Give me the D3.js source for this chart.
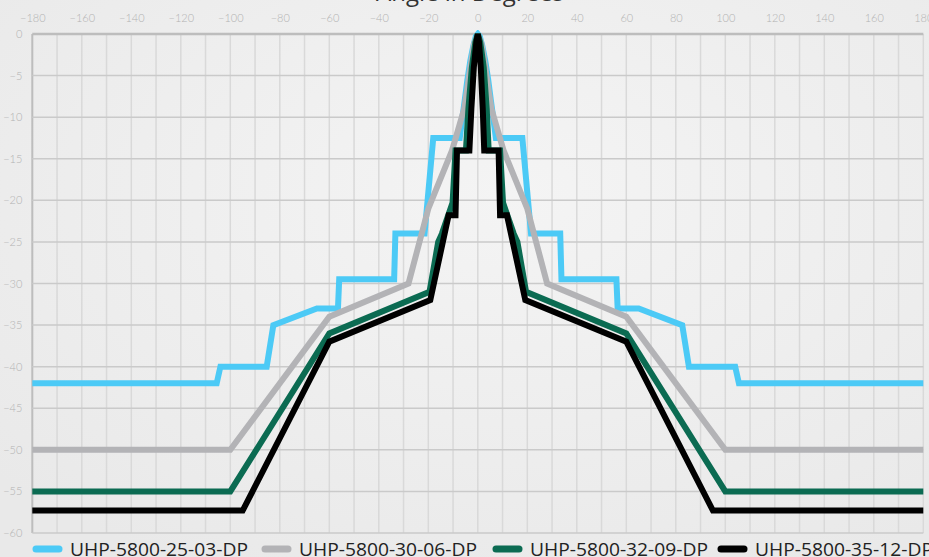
<!DOCTYPE html>
<html>
<head>
<meta charset="utf-8">
<script src="https://cdn.jsdelivr.net/npm/d3@7"></script>
<style>
  html, body { margin: 0; padding: 0; }
  body { width: 929px; height: 557px; overflow: hidden; background: #efefef; }
  svg { display: block; }
</style>
</head>
<body>
<svg id="chart" width="929" height="557"></svg>
<script>
// ---- Data (angle in degrees, level in dB) ----
const seriesNames = ["UHP-5800-25-03-DP", "UHP-5800-30-06-DP", "UHP-5800-32-09-DP", "UHP-5800-35-12-DP"];
const seriesColors = ["#4ccaf6", "#b3b3b6", "#0b6b52", "#000000"];

const angles25 = [-180,-105.5,-104,-85.3,-82.6,-65,-56.5,-56,-33.8,-33.3,-21.5,-18,-7.3,-6.2,-5.3,-4.2,-3,-1.8,-0.8,0,0.8,1.8,3,4.2,5.3,6.2,7.3,18,21.5,33.3,33.8,56,56.5,65,82.6,85.3,104,105.5,180];
const db25 = [-42,-42,-40,-40,-35,-33,-33,-29.5,-29.5,-24,-24,-12.5,-12.5,-10,-8,-5.5,-3.2,-1.4,-0.3,0,-0.3,-1.4,-3.2,-5.5,-8,-10,-12.5,-12.5,-24,-24,-29.5,-29.5,-33,-33,-35,-40,-40,-42,-42];

const angles30 = [-180,-100,-60,-28,-20,-10.4,-5.5,-4.2,-3,-1.5,0,1.5,3,4.2,5.5,10.4,20,28,60,100,180];
const db30 = [-50,-50,-34,-30,-21,-14,-9,-6.5,-4,-1.2,0,-1.2,-4,-6.5,-9,-14,-21,-30,-34,-50,-50];

const angles32 = [-180,-100,-60,-19.5,-16,-14.5,-10.2,-9,-4.8,-3.8,-2.4,-1,0,1,2.4,3.6,4.4,9,10.2,14.5,16,19.5,60,100,180];
const db32 = [-55,-55,-36,-31,-25,-24,-20.3,-14,-14,-9,-4,-1,0,-1,-4,-9,-14,-14,-20.3,-24,-25,-31,-36,-55,-55];

const angles35 = [-180,-95,-60,-19.2,-11.8,-9,-8.4,-3.4,-2.6,-1.6,-0.6,0,0.5,1.2,2,2.6,8.4,9,11.8,19.2,60,95,180];
const db35 = [-57.3,-57.3,-37,-32,-21.8,-21.8,-14,-14,-9,-4,-1,0,-1,-4,-9,-14,-14,-21.8,-21.8,-32,-37,-57.3,-57.3];

const xTickValues = d3.range(-180, 181, 20);
const yTickValues = d3.range(0, -61, -5);
const xGridValues = d3.range(-180, 181, 10);
const chartTitle = "Angle in Degrees";

// ---- Layout ----
const W = 929, H = 557;
const plot = { left: 32.3, right: 923.3, top: 34, bottom: 533 };

const svg = d3.select("#chart");
const defs = svg.append("defs");
const grad = defs.append("radialGradient").attr("id", "bg").attr("cx", "55%").attr("cy", "35%").attr("r", "75%");
grad.append("stop").attr("offset", "0%").attr("stop-color", "#f4f4f4");
grad.append("stop").attr("offset", "100%").attr("stop-color", "#e9e9e9");
svg.append("rect").attr("width", W).attr("height", H).attr("fill", "url(#bg)");

defs.append("clipPath").attr("id", "plotclip").append("rect")
  .attr("x", plot.left - 1).attr("y", plot.top - 4)
  .attr("width", plot.right - plot.left + 2).attr("height", plot.bottom - plot.top + 8);

const x = d3.scaleLinear().domain([-180, 180]).range([plot.left, plot.right]);
const y = d3.scaleLinear().domain([0, -60]).range([plot.top, plot.bottom]);

// Title (mostly cut off at top)
svg.append("text")
  .attr("x", 470).attr("y", 1)
  .attr("text-anchor", "middle")
  .attr("font-family", "'Open Sans', sans-serif")
  .attr("font-size", 24)
  .attr("fill", "#333")
  .text(chartTitle);

// Grid
const grid = svg.append("g");
grid.selectAll("line.v").data(xGridValues).join("line")
  .attr("class", "v")
  .attr("x1", d => x(d)).attr("x2", d => x(d))
  .attr("y1", plot.top).attr("y2", plot.bottom)
  .attr("stroke", d => (d === -180 ? "#bdbdbd" : "#d9d9d9"))
  .attr("stroke-width", d => (d === -180 ? 2 : 1.5));
grid.selectAll("line.h").data(yTickValues).join("line")
  .attr("class", "h")
  .attr("x1", plot.left).attr("x2", plot.right)
  .attr("y1", d => y(d)).attr("y2", d => y(d))
  .attr("stroke", d => (d === 0 ? "#bdbdbd" : "#cacaca"))
  .attr("stroke-width", d => (d === 0 ? 2.5 : 1.5));

// Axes
const xAxis = d3.axisTop(x).tickValues(xTickValues).tickSize(0).tickPadding(12);
const yAxis = d3.axisLeft(y).tickValues(yTickValues).tickSize(0).tickPadding(10);
const gx = svg.append("g").attr("transform", `translate(0,${plot.top})`).call(xAxis);
const gy = svg.append("g").attr("transform", `translate(${plot.left},0)`).call(yAxis);
[gx, gy].forEach(g => {
  g.select(".domain").remove();
  g.selectAll("text")
    .attr("font-family", "Lato, 'Open Sans', sans-serif")
    .attr("font-weight", 300)
    .attr("font-size", 11)
    .attr("fill", "#b3b3b3");
});

// Lines
const series = [
  { name: seriesNames[0], color: seriesColors[0], a: angles25, v: db25 },
  { name: seriesNames[1], color: seriesColors[1], a: angles30, v: db30 },
  { name: seriesNames[2], color: seriesColors[2], a: angles32, v: db32 },
  { name: seriesNames[3], color: seriesColors[3], a: angles35, v: db35 }
];
const line = d3.line().x(d => x(d[0])).y(d => y(d[1]));
const lines = svg.append("g").attr("clip-path", "url(#plotclip)");
series.forEach(s => {
  const pts = s.a.map((a, i) => [a, s.v[i]]);
  lines.append("path")
    .attr("d", line(pts))
    .attr("fill", "none")
    .attr("stroke", s.color)
    .attr("stroke-width", 6)
    .attr("stroke-linejoin", "miter")
    .attr("stroke-miterlimit", 2.5);
});

// Legend
const legendX = [33, 262, 493, 718];
const legend = svg.append("g");
series.forEach((s, i) => {
  const g = legend.append("g").attr("transform", `translate(${legendX[i]},549)`);
  g.append("line")
    .attr("x1", 3).attr("x2", 26).attr("y1", 0).attr("y2", 0)
    .attr("stroke", s.color).attr("stroke-width", 7).attr("stroke-linecap", "round");
  g.append("text")
    .attr("x", 37).attr("y", 7)
    .attr("font-family", "'Open Sans', sans-serif")
    .attr("font-size", 18)
    .attr("fill", "#222")
    .attr("textLength", 178)
    .attr("lengthAdjust", "spacingAndGlyphs")
    .text(s.name);
});
</script>
</body>
</html>
